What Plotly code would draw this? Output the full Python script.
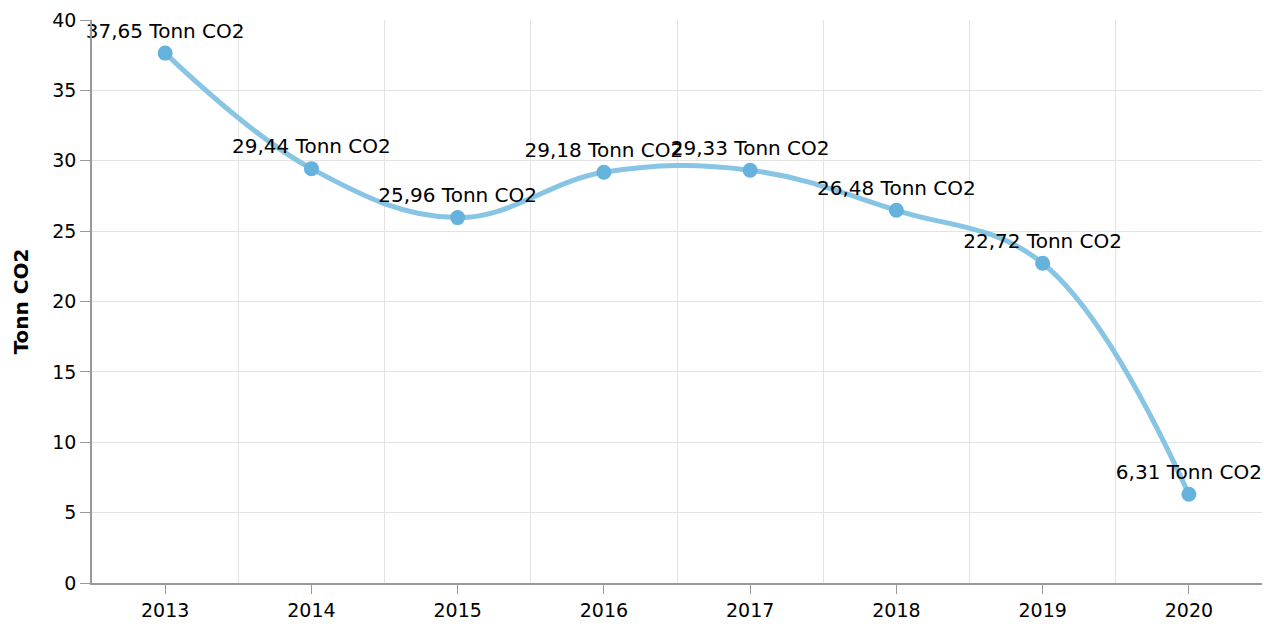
import plotly.graph_objects as go

years = [2013, 2014, 2015, 2016, 2017, 2018, 2019, 2020]
values = [37.65, 29.44, 25.96, 29.18, 29.33, 26.48, 22.72, 6.31]
labels = [f"{v:.2f}".replace(".", ",") + " Tonn CO2" for v in values]
y_title = "Tonn CO2"

FONT = "DejaVu Sans, Verdana, sans-serif"

fig = go.Figure()
fig.add_trace(go.Scatter(
    x=years, y=values, mode="lines+markers+text",
    text=labels, textposition="top center",
    textfont=dict(family=FONT, size=20, color="#000000"),
    line=dict(shape="spline", smoothing=1.1, color="#88c4e3", width=5),
    marker=dict(size=15, color="#65b2dc"),
    cliponaxis=False,
    showlegend=False,
))

fig.update_layout(
    width=1264, height=626,
    margin=dict(l=92, r=2, t=20, b=43, autoexpand=False),
    plot_bgcolor="white", paper_bgcolor="white",
    font=dict(family=FONT, size=19, color="#000000"),
)
fig.update_xaxes(
    range=[2012.5, 2020.5], tickmode="array", tickvals=years,
    ticktext=[str(y) for y in years],
    showgrid=False, zeroline=False,
    showline=True, linecolor="#999999", linewidth=1.5,
    ticks="outside", ticklen=9, tickcolor="#999999",
    tickfont=dict(family=FONT, size=19, color="#000000"),
    minor=dict(tickmode="linear", tick0=2012.5, dtick=1, showgrid=True,
               gridcolor="#e3e3e3", gridwidth=1, ticks=""),
)
fig.update_yaxes(
    range=[0, 40], dtick=5, showgrid=True, gridcolor="#e3e3e3", gridwidth=1,
    zeroline=False, showline=True, linecolor="#999999", linewidth=1.5,
    ticks="outside", ticklen=10, tickcolor="#999999",
    tickfont=dict(family=FONT, size=19, color="#000000"),
    title=dict(text=f"<b>{y_title}</b>", font=dict(family=FONT, size=20, color="#000000"), standoff=18),
)

fig.write_html("out.html", config={"displayModeBar": False},
               post_script="document.body.style.margin='0';document.body.style.overflow='hidden';")
